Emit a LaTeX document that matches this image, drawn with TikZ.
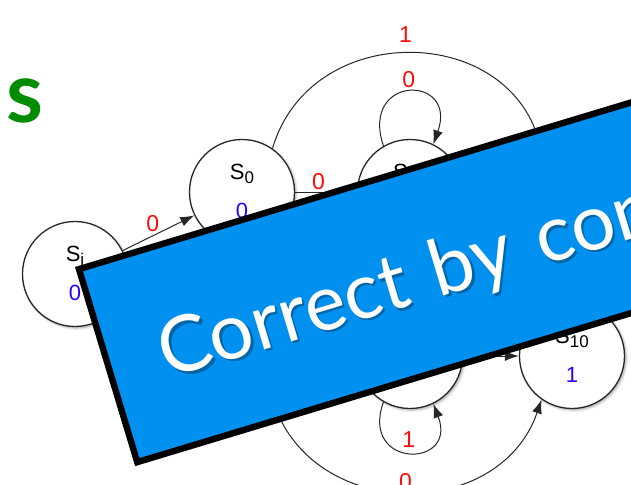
\documentclass[tikz,border=0pt]{standalone}
\usepackage{fontspec}
\setmainfont{Liberation Sans}
\newfontfamily\bannerfont{Lato}[WordSpace=1.3]
\usetikzlibrary{arrows.meta,shadows.blur}
\definecolor{titlegreen}{RGB}{0,140,0}
\definecolor{bannerblue}{RGB}{0,145,240}
\definecolor{edgered}{RGB}{255,10,10}
\definecolor{outblue}{RGB}{45,0,255}
\newcommand{\statename}[1]{S\raisebox{-2pt}{\fontsize{8.5}{8.5}\selectfont #1}}

\begin{document}
\begin{tikzpicture}[x=0.5pt, y=0.5pt,
  state/.style={draw=black!85, line width=0.65pt, circle, fill=white,
                minimum size=52.5pt, inner sep=0pt,
                blur shadow={shadow xshift=0.8pt, shadow yshift=-0.8pt,
                             shadow blur radius=1.2pt, shadow opacity=35}},
  namelbl/.style={font=\fontsize{11}{11}\selectfont, inner sep=0pt},
  outlbl/.style={text=outblue, font=\fontsize{11}{11}\selectfont, inner sep=0pt},
  elab/.style={text=edgered, font=\fontsize{11.5}{11.5}\selectfont, inner sep=1pt},
  arr/.style={draw=black!85, line width=0.5pt, -{Latex[length=7pt,width=5pt]}},
  banner/.style={draw=black, line width=3.2pt, fill=bannerblue, line join=miter},
  bannertext/.style={text=white, font=\bannerfont\fontsize{39}{39}\selectfont, inner sep=0pt},
  titlelbl/.style={text=titlegreen, font=\bannerfont\bfseries\fontsize{42}{42}\selectfont, inner sep=0pt},
]
\useasboundingbox (0,0) rectangle (631,484);
\clip (0,0) rectangle (631,484);

% ---- Title letter ----
\node[titlelbl, anchor=base west] (title) at (6,362) {s};

% ---- States ----
\node[state] (si)  at (75,210)  {};
\node[state] (s0)  at (242,292) {};
\node[state] (s00) at (410,292) {};
\node[state] (s01) at (572,292) {};
\node[state] (s1)  at (242,128) {};
\node[state] (s11) at (410,128) {};
\node[state] (s10) at (572,128) {};

\foreach \n/\sub/\o in {si/i/0, s0/0/0, s00/00/0, s01/01/0,
                        s1/1/0, s11/11/0, s10/10/1} {
  \node[namelbl, anchor=base] (\n-name) at ([yshift=6.5pt]\n.center) {\statename{\sub}};
  \node[outlbl, anchor=base] (\n-out) at ([yshift=-13pt]\n.center) {\o};
}

% ---- Transitions ----
\draw[arr] (si) -- (s0) node[elab, pos=0.42, above=1pt] (l-si-s0) {0};
\draw[arr] (s0) -- (s00) node[elab, pos=0.38, above=0pt] (l-s0-s00) {0};
\draw[arr] (s0.55) .. controls +(37,126) and +(-41,126) .. (s01.125)
  node[elab, pos=0.5, above=4.5pt] (l-s0-s01) {1};
\draw[arr] (s00.120) .. controls +(-24,72) and +(25,70) .. (s00.64)
  node[elab, pos=0.5, above=1pt] (l-s00) {0};
\draw[arr] (s11.-120) .. controls +(-24,-67) and +(25,-65) .. (s11.-64)
  node[elab, pos=0.5, above=1pt] (l-s11) {1};
\draw[arr] (s1.-55) .. controls +(38,-123) and +(-42,-123) .. (s10.-125)
  node[elab, pos=0.5, above=0pt] (l-s1-s10) {0};
\draw[arr] (s11) -- (s10);

% ---- Banner across the machine ----
\begin{scope}[shift={(75,217)}, rotate=16.8, transform shape]
  \draw[banner] (3.2,-3.2) rectangle (900,-204.8);
  \node[bannertext, text=black, opacity=0.3, anchor=base west] (motto-shade) at (57.5,-137) {Correct by construction};
  \node[bannertext, anchor=base west] (motto) at (56,-134) {Correct by construction};
\end{scope}
\end{tikzpicture}
\end{document}
